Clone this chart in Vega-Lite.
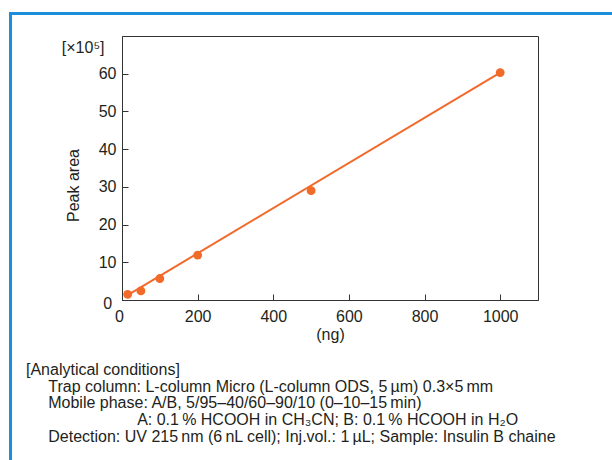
{
  "$schema": "https://vega.github.io/schema/vega-lite/v6.json",
  "padding": {"left": 9, "top": 12, "right": 0, "bottom": 0},
  "config": {
    "font": "Liberation Sans",
    "view": {"stroke": null},
    "axis": {"grid": false}
  },
  "datasets": {
    "points": [
      {"amount": 15, "area": 1.5},
      {"amount": 50, "area": 2.4},
      {"amount": 100, "area": 5.7},
      {"amount": 200, "area": 11.9},
      {"amount": 500, "area": 29.0},
      {"amount": 1000, "area": 60.3}
    ],
    "fit": [
      {"amount": 15, "area": 1.3},
      {"amount": 1000, "area": 60.3}
    ],
    "frame": [{"part": "frame"}]
  },
  "spacing": 0,
  "hconcat": [
    {
      "width": 3,
      "height": 448,
      "view": {"fill": "#1b8fd9", "stroke": null},
      "data": {"name": "frame"},
      "mark": {"type": "rect", "color": "#1b8fd9"}
    },
    {
      "spacing": 20,
      "title": {
        "text": "[Analytical conditions]",
        "subtitle": [
          "\u200b\u00a0\u00a0\u00a0\u00a0\u00a0Trap column: L-column Micro (L-column ODS, 5\u2009\u00b5m) 0.3\u00d75\u2009mm",
          "\u200b\u00a0\u00a0\u00a0\u00a0\u00a0Mobile phase: A/B, 5/95\u201340/60\u201390/10 (0\u201310\u201315\u2009min)",
          "\u200b\u00a0\u00a0\u00a0\u00a0\u00a0\u00a0\u00a0\u00a0\u00a0\u00a0\u00a0\u00a0\u00a0\u00a0\u00a0\u00a0\u00a0\u00a0\u00a0\u00a0\u00a0\u00a0\u00a0\u00a0\u00a0A: 0.1\u2009% HCOOH in CH\u2083CN; B: 0.1\u2009% HCOOH in H\u2082O",
          "\u200b\u00a0\u00a0\u00a0\u00a0\u00a0Detection: UV 215\u2009nm (6\u2009nL cell); Inj.vol.: 1\u2009\u00b5L; Sample: Insulin B chaine"
        ],
        "orient": "bottom",
        "anchor": "start",
        "frame": "bounds",
        "dx": 14,
        "offset": 19,
        "font": "Liberation Sans",
        "fontSize": 16,
        "fontWeight": "normal",
        "color": "#231f20",
        "subtitleFont": "Liberation Sans",
        "subtitleFontSize": 16,
        "subtitleColor": "#231f20",
        "subtitleLineHeight": 16.7,
        "subtitlePadding": 1
      },
      "vconcat": [
        {
          "width": 600,
          "height": 3,
          "view": {"fill": "#1b8fd9", "stroke": null},
          "data": {"name": "frame"},
          "mark": {"type": "rect", "color": "#1b8fd9"}
        },
        {
          "spacing": 0,
          "hconcat": [
            {
              "width": 48,
              "height": 10,
              "view": {"stroke": null},
              "data": {"name": "frame"},
              "mark": {"type": "text", "text": ""}
            },
            {
              "width": 416,
              "height": 264,
              "view": {"stroke": "#333333", "strokeWidth": 1},
              "encoding": {
                "x": {
                  "field": "amount",
                  "type": "quantitative",
                  "scale": {"domain": [0, 1100], "nice": false},
                  "axis": {
                    "values": [0, 200, 400, 600, 800, 1000],
                    "format": "d",
                    "title": "(ng)",
                    "labelFlush": false,
                    "labelOverlap": false,
                    "labelFontSize": 16,
                    "labelColor": "#231f20",
                    "labelPadding": 14,
                    "labelOffset": {"condition": {"test": "datum.value === 0", "value": -3}, "value": 0},
                    "tickSize": -6,
                    "tickColor": "#333333",
                    "domainColor": "#333333",
                    "titleFontSize": 16,
                    "titleFontWeight": "normal",
                    "titleColor": "#231f20",
                    "titlePadding": 2
                  }
                },
                "y": {
                  "field": "area",
                  "type": "quantitative",
                  "scale": {"domain": [0, 70], "nice": false},
                  "axis": {
                    "values": [0, 10, 20, 30, 40, 50, 60, 70],
                    "labelExpr": "datum.value === 70 ? '[\u00d710\u2075]' : datum.value === 0 ? '0\u00a0\u200b' : datum.label",
                    "labelOverlap": false,
                    "title": "Peak area",
                    "labelFontSize": 16,
                    "labelColor": "#231f20",
                    "labelPadding": {"condition": {"test": "datum.value === 70", "value": 24}, "value": 12},
                    "labelOffset": {"condition": {"test": "datum.value === 70 || datum.value === 0", "value": 3}, "value": 0},
                    "labelBaseline": {"condition": {"test": "datum.value === 70", "value": "top"}, "value": "middle"},
                    "tickSize": -6,
                    "tickColor": "#333333",
                    "tickOpacity": {"condition": {"test": "datum.value === 70", "value": 0}, "value": 1},
                    "domainColor": "#333333",
                    "titleFontSize": 16,
                    "titleFontWeight": "normal",
                    "titleColor": "#231f20",
                    "titleX": -44,
                    "titleY": 149,
                    "titleBaseline": "alphabetic"
                  }
                }
              },
              "layer": [
                {
                  "data": {"name": "fit"},
                  "mark": {"type": "line", "color": "#f26a2a", "strokeWidth": 2}
                },
                {
                  "data": {"name": "points"},
                  "mark": {"type": "circle", "color": "#f26a2a", "size": 78, "opacity": 1}
                }
              ]
            }
          ]
        }
      ]
    }
  ]
}
